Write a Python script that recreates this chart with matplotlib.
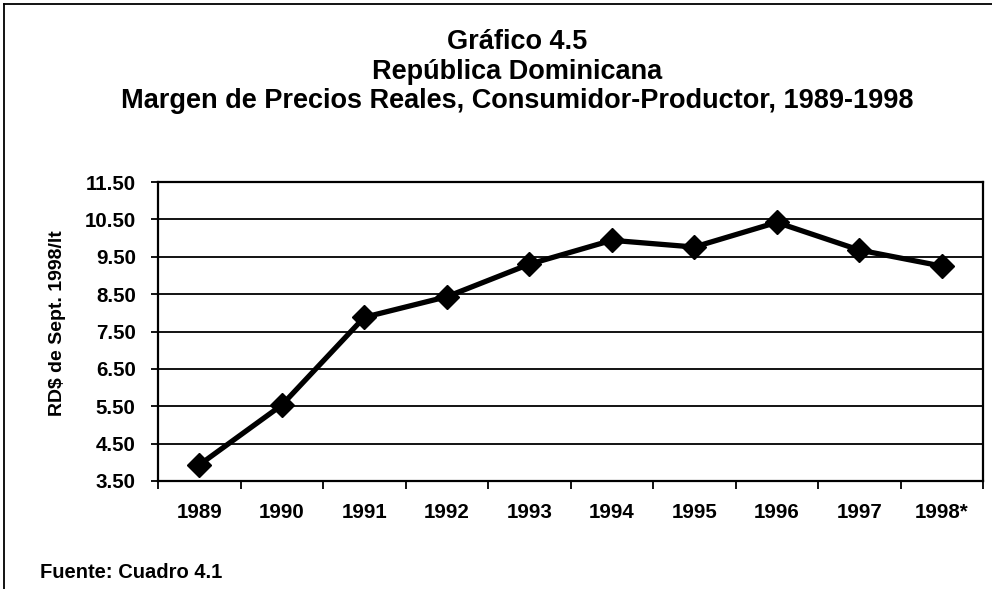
import matplotlib
matplotlib.use("Agg")
import matplotlib.pyplot as plt
from matplotlib.lines import Line2D
import numpy as np

plt.rcParams['font.family'] = ['Liberation Sans', 'DejaVu Sans']

years = ["1989", "1990", "1991", "1992", "1993", "1994", "1995", "1996", "1997", "1998*"]
margin = [3.93, 5.53, 7.88, 8.43, 9.30, 9.94, 9.76, 10.42, 9.68, 9.25]
yticks = [3.5, 4.5, 5.5, 6.5, 7.5, 8.5, 9.5, 10.5, 11.5]

W, H = 992, 589
fig = plt.figure(figsize=(W / 100, H / 100), dpi=100)
ax = fig.add_axes([158 / W, 1 - 481 / H, (983 - 158) / W, (481 - 182) / H])

x = np.arange(len(years))
ax.plot(x, margin, color='black', lw=3.8, marker='D', markersize=12,
        markerfacecolor='black', markeredgecolor='black', zorder=3)

ax.set_xlim(-0.5, len(years) - 0.5)
ax.set_ylim(3.5, 11.5)
ax.set_yticks(yticks)
ax.set_yticklabels([f"{v:.2f}" for v in yticks], fontsize=14.8, fontweight='bold')
ax.set_xticks(x)
ax.set_xticklabels(years, fontsize=14.8, fontweight='bold')
ax.set_xticks(np.arange(-0.5, len(years), 1.0), minor=True)
ax.tick_params(axis='x', which='major', length=0, pad=16)
ax.tick_params(axis='x', which='minor', length=6, width=1.3, direction='out')
ax.tick_params(axis='y', length=5, width=1.3, direction='out', pad=11)
ax.yaxis.grid(True, color='black', lw=1.3)
ax.set_axisbelow(True)
for s in ax.spines.values():
    s.set_linewidth(1.6)
    s.set_color('black')

ax.set_ylabel("RD$ de Sept. 1998/lt", fontsize=14, fontweight='bold')
ax.yaxis.set_label_coords(57 / W, 1 - 323 / H, transform=fig.transFigure)
ax.yaxis.label.set_va('center')

tx = 0.5 + 21 / W
fig.text(tx, 1 - 42 / H, "Gráfico 4.5", ha='center', va='center',
         fontsize=19.5, fontweight='bold')
fig.text(tx, 1 - 72 / H, "República Dominicana", ha='center', va='center',
         fontsize=19.5, fontweight='bold')
fig.text(tx, 1 - 101 / H, "Margen de Precios Reales, Consumidor-Productor, 1989-1998",
         ha='center', va='center', fontsize=19.5, fontweight='bold')
fig.text(40 / W, 1 - 573 / H, "Fuente: Cuadro 4.1", ha='left', va='center',
         fontsize=14.5, fontweight='bold')

# outer frame (left and top edges)
fig.add_artist(Line2D([4 / W, 4 / W], [0, 1 - 4 / H], transform=fig.transFigure,
                      color='black', lw=1.3))
fig.add_artist(Line2D([4 / W, 1], [1 - 4 / H, 1 - 4 / H], transform=fig.transFigure,
                      color='black', lw=1.3))

fig.savefig("out.png", dpi=100)
